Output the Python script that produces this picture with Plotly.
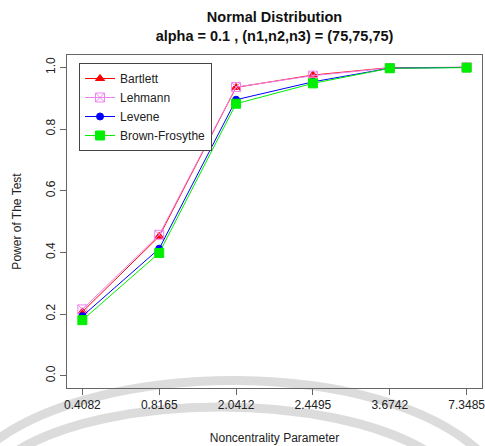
"""Power curves for four variance tests, normal distribution."""

import plotly.graph_objects as go

# data
ncp_labels = ['0.4082', '0.8165', '2.0412', '2.4495', '3.6742', '7.3485']
bartlett = [0.207, 0.452, 0.935, 0.975, 0.999, 1.000]
lehmann = [0.215, 0.457, 0.936, 0.973, 0.998, 1.000]
levene = [0.193, 0.412, 0.895, 0.953, 0.997, 1.000]
brown_forsythe = [0.180, 0.398, 0.882, 0.948, 0.997, 0.999]

W, H = 485, 446
L, R, T, B = 67, 3, 55, 58
PW, PH = W - L - R, H - T - B

fig = go.Figure()

series = [
    ('Bartlett', bartlett, 'red', 'triangle-up', 8),
    ('Lehmann', lehmann, 'violet', 'square-x-open', 9),
    ('Levene', levene, 'blue', 'circle', 7),
    ('Brown-Frosythe', brown_forsythe, '#00ee00', 'square', 9),
]
for name, vals, col, sym, size in series:
    fig.add_trace(go.Scatter(
        x=ncp_labels, y=vals, name=name, mode='lines+markers',
        line=dict(color=col, width=1),
        marker=dict(color=col, symbol=sym, size=size,
                    line=dict(color=col, width=1)),
    ))


def px(x, y):
    # page pixel -> paper coordinates (only for the faint watermark arcs)
    return f"{(x - L) / PW:.4f},{(T + PH - y) / PH:.4f}"


arcs = [
    ((-10, 445), (100, 358), (380, 358), (480, 452)),
    ((15, 452), (110, 392), (330, 392), (428, 452)),
]
for p0, c1, c2, p1 in arcs:
    fig.add_shape(
        type='path', xref='paper', yref='paper', layer='below',
        path=f"M {px(*p0)} C {px(*c1)} {px(*c2)} {px(*p1)}",
        line=dict(color='rgba(205,205,205,0.7)', width=9),
    )

fig.update_layout(
    width=W, height=H,
    margin=dict(l=L, r=R, t=T, b=B, autoexpand=False),
    paper_bgcolor='white', plot_bgcolor='white',
    font=dict(family='Liberation Sans, Arial, sans-serif', size=12, color='#222'),
    title=dict(
        text='<b>Normal Distribution<br>alpha = 0.1 , (n1,n2,n3) = (75,75,75)</b>',
        x=0.5, xref='paper', xanchor='center',
        y=1 - 22 / H, yref='container', yanchor='middle',
        font=dict(size=14.5, color='#111'),
    ),
    showlegend=True,
    legend=dict(
        x=0.029, y=0.976, xanchor='left', yanchor='top',
        bgcolor='white', bordercolor='#444', borderwidth=1,
        font=dict(size=12, color='#222'),
        tracegroupgap=0, itemwidth=30,
    ),
)

fig.update_xaxes(
    type='category', range=[-0.2, 5.2], automargin=False,
    showgrid=False, zeroline=False,
    showline=True, mirror=True, linecolor='#666', linewidth=1,
    ticks='outside', ticklen=6, tickcolor='#666', tickfont=dict(size=12),
    title=dict(text='Noncentrality Parameter', standoff=22,
               font=dict(size=12)),
)
fig.update_yaxes(
    range=[-0.04, 1.04], tickvals=[0, 0.2, 0.4, 0.6, 0.8, 1.0],
    tickformat='.1f', tickangle=-90, automargin=False,
    showgrid=False, zeroline=False,
    showline=True, mirror=True, linecolor='#666', linewidth=1,
    ticks='outside', ticklen=6, tickcolor='#666', tickfont=dict(size=12),
    title=dict(text='Power of The Test', standoff=20, font=dict(size=12)),
)

# drop the default 8px body margin so the figure fills the window exactly
fig.write_html("out.html", config={'displayModeBar': False},
               post_script="document.body.style.margin='0';")
